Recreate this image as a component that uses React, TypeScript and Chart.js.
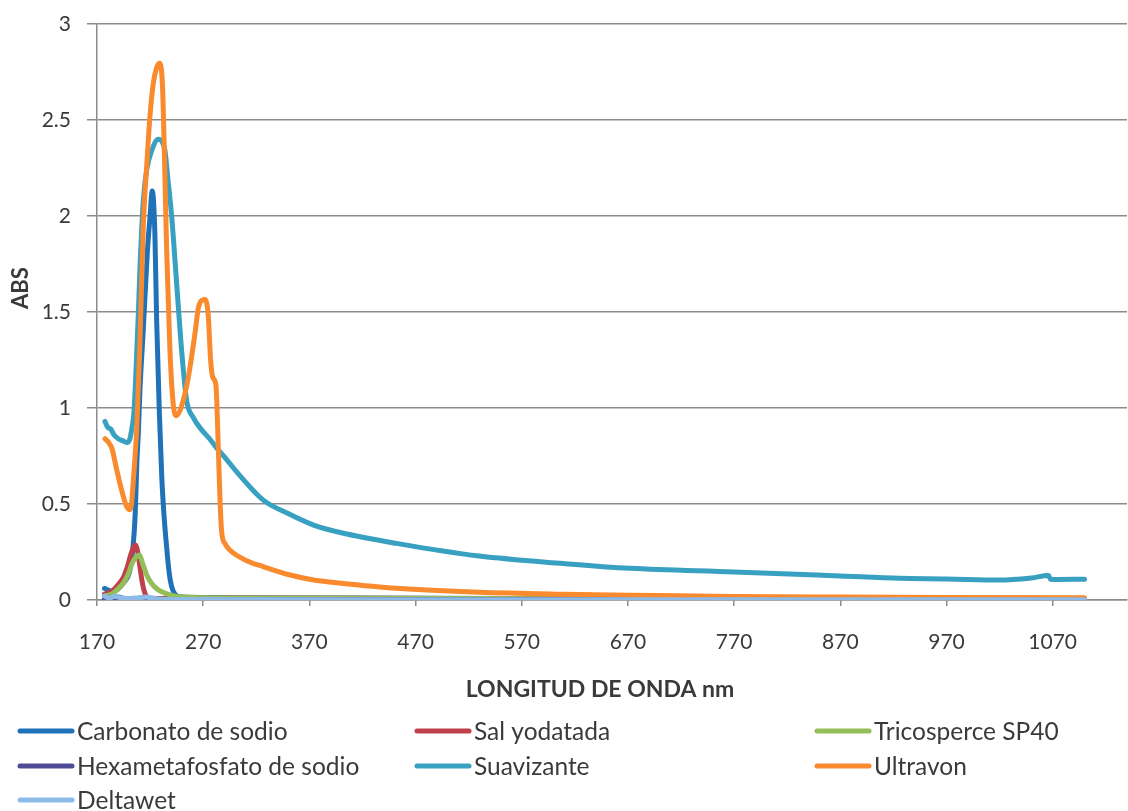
import React, { useEffect, useRef } from 'react';
import { Chart, registerables } from 'chart.js';

Chart.register(...registerables);

// Axis settings
const xTickValues = [170, 270, 370, 470, 570, 670, 770, 870, 970, 1070];
const xMin = 170;
const xMax = 1140;
const yMin = 0;
const yMax = 3;
const yStep = 0.5;

// Spectra: wavelength (nm) and absorbance for each sample
const carbonatoNm = [177, 185, 195, 201, 204, 206, 207.5, 209, 210.5, 213.5, 217.5, 220, 222, 224.5, 226.2, 228.7, 231, 233, 235.5, 238, 240.3, 243.5, 250, 300, 400, 600, 800, 1000, 1100];
const carbonatoAbs = [0.06, 0.045, 0.09, 0.156, 0.28, 0.45, 0.71, 0.88, 1.1, 1.4, 1.82, 2.0, 2.13, 1.91, 1.45, 0.98, 0.64, 0.45, 0.28, 0.14, 0.07, 0.03, 0.015, 0.012, 0.01, 0.008, 0.007, 0.006, 0.006];

const salNm = [177, 185, 190, 195, 199, 202, 205, 206.5, 208, 210.5, 213, 215.2, 218, 225, 300, 500, 800, 1100];
const salAbs = [0.03, 0.05, 0.08, 0.12, 0.18, 0.24, 0.28, 0.286, 0.26, 0.17, 0.08, 0.035, 0.012, 0.008, 0.01, 0.008, 0.007, 0.006];

const tricosperceNm = [177, 185, 190, 195, 199, 203, 207, 210, 213, 216.8, 221, 226, 232, 239, 250, 300, 600, 1100];
const tricosperceAbs = [0.02, 0.035, 0.06, 0.09, 0.13, 0.19, 0.225, 0.234, 0.19, 0.13, 0.09, 0.06, 0.04, 0.026, 0.015, 0.01, 0.007, 0.005];

const hexametaNm = [177, 183, 190, 197, 205, 212, 216, 222, 240, 600, 1100];
const hexametaAbs = [0.005, 0.01, 0.015, 0.006, 0.004, 0.01, 0.012, 0.005, 0.003, 0.002, 0.002];

const suavizanteNm = [177.5, 180, 183, 186, 190, 194, 198, 201, 203, 204.5, 206, 207.5, 209, 210.5, 212, 213.6, 216.8, 221.5, 227.7, 231, 234, 237.2, 240.3, 245, 249.7, 254.4, 260.7, 268, 276, 283, 290, 305, 326.6, 350, 374, 400, 452, 530, 609, 672, 770, 870, 926, 970, 1020, 1050, 1066, 1068, 1075, 1100];
const suavizanteAbs = [0.93, 0.9, 0.89, 0.86, 0.84, 0.83, 0.82, 0.84, 0.9, 0.96, 1.1, 1.3, 1.5, 1.74, 1.92, 2.08, 2.24, 2.34, 2.4, 2.39, 2.34, 2.17, 2.0, 1.65, 1.3, 1.04, 0.95, 0.89, 0.84, 0.79, 0.745, 0.645, 0.52, 0.45, 0.39, 0.35, 0.295, 0.229, 0.19, 0.165, 0.146, 0.125, 0.113, 0.11, 0.104, 0.115, 0.127, 0.108, 0.107, 0.108];

const ultravonNm = [177.5, 181, 184, 188.5, 193.3, 198, 201, 202.5, 204.2, 206, 207.5, 210.5, 213.6, 216.8, 219.9, 223, 226, 228.7, 231.5, 233.4, 235.6, 238.7, 241.8, 245, 249.7, 256, 262.3, 265.4, 268.5, 271.7, 274.8, 277, 279, 282, 284.3, 286, 287.5, 291, 295, 311, 326.6, 352, 374, 396, 452, 530, 609, 672, 770, 870, 970, 1100];
const ultravonAbs = [0.84, 0.82, 0.79, 0.68, 0.57, 0.486, 0.47, 0.5, 0.62, 0.76, 0.9, 1.35, 1.95, 2.26, 2.52, 2.69, 2.77, 2.795, 2.7, 2.34, 1.82, 1.3, 1.02, 0.96, 1.01, 1.16, 1.39, 1.52, 1.56, 1.565, 1.48, 1.25, 1.16, 1.12, 0.78, 0.5, 0.35, 0.29, 0.26, 0.205, 0.174, 0.13, 0.104, 0.09, 0.061, 0.04, 0.03, 0.025, 0.018, 0.015, 0.013, 0.012];

const deltawetNm = [177, 182, 187, 192, 200, 210, 216, 225, 240, 400, 800, 1100];
const deltawetAbs = [0.02, 0.01, 0.02, 0.012, 0.008, 0.012, 0.015, 0.006, 0.002, 0.001, 0.001, 0.001];

const seriesNames = [
  'Carbonato de sodio',
  'Sal yodatada',
  'Tricosperce SP40',
  'Hexametafosfato de sodio',
  'Suavizante',
  'Ultravon',
  'Deltawet',
];
const seriesColors = ['#1F72B8', '#C0404A', '#94BE57', '#4F4B96', '#38A0C0', '#F98A2E', '#8DBBE8'];
const seriesNm = [carbonatoNm, salNm, tricosperceNm, hexametaNm, suavizanteNm, ultravonNm, deltawetNm];
const seriesAbs = [carbonatoAbs, salAbs, tricosperceAbs, hexametaAbs, suavizanteAbs, ultravonAbs, deltawetAbs];

const TEXT = '#3A3A3A';
const GRID = '#8C8C8C';
const FONT = 'Lato, "Open Sans", sans-serif';

// Axis titles and the three-column legend under the plot
const decorations = {
  id: 'decorations',
  afterDraw(chart: any) {
    const ctx = chart.ctx as CanvasRenderingContext2D;
    ctx.save();
    ctx.fillStyle = TEXT;

    ctx.font = `bold 22px ${FONT}`;
    ctx.textAlign = 'center';
    ctx.textBaseline = 'middle';
    ctx.save();
    ctx.translate(21, 288);
    ctx.rotate(-Math.PI / 2);
    ctx.fillText('ABS', 0, 0);
    ctx.restore();

    ctx.font = `bold 23px ${FONT}`;
    ctx.fillText('LONGITUD DE ONDA nm', 600, 690);

    const colX = [18, 415, 815];
    const rowY = [731, 766, 800];
    ctx.font = `24.5px ${FONT}`;
    ctx.textAlign = 'left';
    chart.data.datasets.forEach((ds: any, i: number) => {
      const x = colX[i % 3];
      const y = rowY[Math.floor(i / 3)];
      ctx.strokeStyle = ds.borderColor;
      ctx.lineWidth = 5;
      ctx.lineCap = 'round';
      ctx.beginPath();
      ctx.moveTo(x + 2, y);
      ctx.lineTo(x + 54, y);
      ctx.stroke();
      ctx.fillStyle = TEXT;
      ctx.fillText(ds.label, x + 59, y + 1);
    });
    ctx.restore();
  },
};

export default function App() {
  const canvasRef = useRef<HTMLCanvasElement | null>(null);

  useEffect(() => {
    const canvas = canvasRef.current;
    if (!canvas) return;

    const datasets = seriesNames.map((name, i) => ({
      label: name,
      data: seriesNm[i].map((nm, k) => ({ x: nm, y: seriesAbs[i][k] })),
      borderColor: seriesColors[i],
      backgroundColor: seriesColors[i],
      borderWidth: 5,
      pointRadius: 0,
      fill: false,
      cubicInterpolationMode: 'monotone' as const,
      borderCapStyle: 'round' as const,
      borderJoinStyle: 'round' as const,
      order: seriesNames.length - i,
    }));

    const chart = new Chart(canvas, {
      type: 'line',
      data: { datasets },
      options: {
        animation: false,
        responsive: false,
        devicePixelRatio: 1,
        layout: { padding: { left: 0, top: 24, right: 1, bottom: 101 } },
        plugins: {
          legend: { display: false },
          tooltip: { enabled: false },
          title: { display: false },
        },
        scales: {
          x: {
            type: 'linear',
            min: xMin,
            max: xMax,
            afterBuildTicks: (scale: any) => {
              scale.ticks = xTickValues.map((value) => ({ value }));
            },
            afterFit: (scale: any) => {
              scale.height = 110;
              scale.paddingLeft = 0;
              scale.paddingRight = 0;
            },
            grid: {
              display: true,
              drawOnChartArea: false,
              drawTicks: true,
              tickLength: 6,
              color: GRID,
              lineWidth: 1.5,
            },
            border: { display: true, color: GRID, width: 1.5 },
            ticks: {
              autoSkip: false,
              maxRotation: 0,
              padding: 24,
              color: TEXT,
              font: { family: FONT, size: 21 },
              callback: (v: any) => String(v),
            },
          },
          y: {
            type: 'linear',
            min: yMin,
            max: yMax,
            afterFit: (scale: any) => {
              scale.width = 97;
              scale.paddingTop = 0;
              scale.paddingBottom = 0;
            },
            grid: {
              display: true,
              drawTicks: true,
              tickLength: 10,
              color: GRID,
              lineWidth: 1.5,
            },
            border: { display: true, color: GRID, width: 1.5 },
            ticks: {
              stepSize: yStep,
              padding: 16,
              color: TEXT,
              font: { family: FONT, size: 21 },
              callback: (v: any) => String(v),
            },
          },
        },
      },
      plugins: [decorations],
    });

    return () => chart.destroy();
  }, []);

  return (
    <div style={{ position: 'absolute', left: 0, top: 0, width: 1128, height: 811, background: '#ffffff' }}>
      <canvas ref={canvasRef} width={1128} height={811} style={{ display: 'block' }} />
    </div>
  );
}
